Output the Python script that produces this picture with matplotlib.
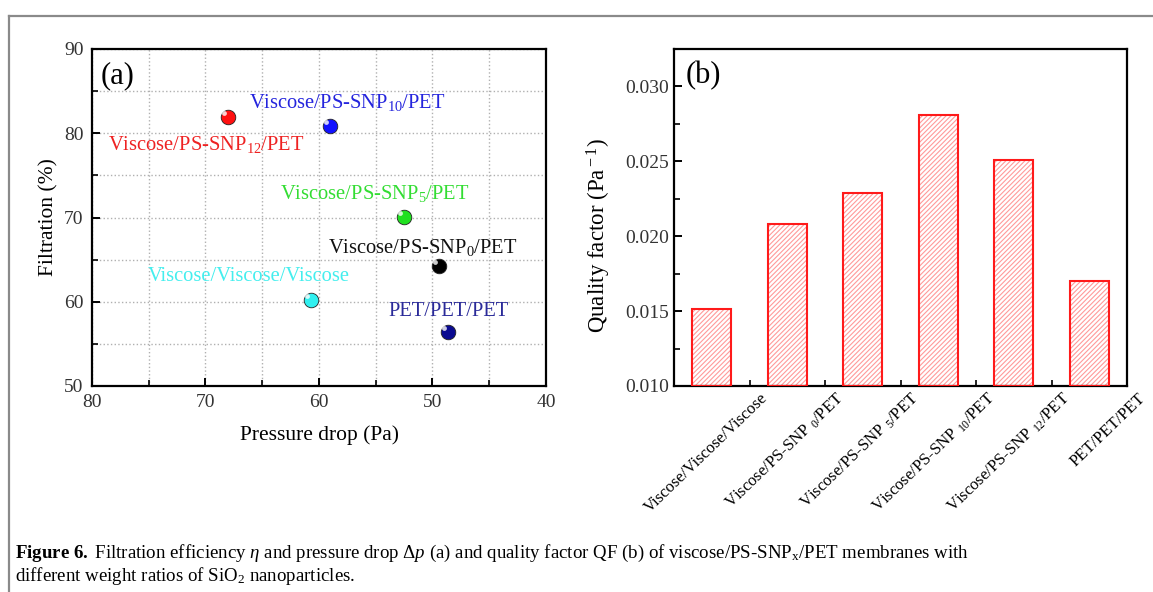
import numpy as np
import matplotlib
matplotlib.use("Agg")
import matplotlib.pyplot as plt
from matplotlib.lines import Line2D
from matplotlib.transforms import blended_transform_factory

plt.rcParams['font.family'] = ['Liberation Serif', 'DejaVu Serif']
plt.rcParams['mathtext.fontset'] = 'custom'
plt.rcParams['mathtext.rm'] = 'Liberation Serif'
plt.rcParams['mathtext.it'] = 'Liberation Serif:italic'
plt.rcParams['mathtext.bf'] = 'Liberation Serif:bold'
plt.rcParams['hatch.linewidth'] = 0.8

# ---- panel (a) data: pressure drop vs filtration ----
samples = ['Viscose/PS-SNP$_{12}$/PET', 'Viscose/PS-SNP$_{10}$/PET', 'Viscose/PS-SNP$_{5}$/PET',
           'Viscose/PS-SNP$_{0}$/PET', 'Viscose/Viscose/Viscose', 'PET/PET/PET']
pressure = [68.0, 59.0, 52.5, 49.4, 60.7, 48.6]
filtration = [81.9, 80.9, 70.1, 64.3, 60.2, 56.4]
dot_colors = ['#ff1010', '#1010ff', '#20e020', '#000000', '#30f0f0', '#0a0a90']
text_colors = ['#ee2222', '#2424dd', '#33dd33', '#111111', '#44eeee', '#2a2a99']
# label anchors (left edge, centre)
lab_x = [78.6, 66.2, 63.4, 59.2, 75.1, 53.9]
lab_y = [78.7, 83.7, 72.8, 66.4, 62.95, 58.8]

# ---- panel (b) data: quality factor ----
qf_labels = ['Viscose/Viscose/Viscose', r'Viscose/PS-SNP $_{\it 0}$/PET', r'Viscose/PS-SNP $_{\it 5}$/PET',
             r'Viscose/PS-SNP $_{\it 10}$/PET', r'Viscose/PS-SNP $_{\it 12}$/PET', 'PET/PET/PET']
qf = [0.01515, 0.0208, 0.0229, 0.0281, 0.0251, 0.0170]

fig = plt.figure(figsize=(11.53, 5.92), dpi=100)

# gray frame around the figure
fig.add_artist(Line2D([0.0075, 1.0], [1 - 15.5/592, 1 - 15.5/592], color='#8a8a8a', lw=1.6))
fig.add_artist(Line2D([0.0075, 0.0075], [0.0, 1 - 15.5/592], color='#8a8a8a', lw=1.6))

ax1 = fig.add_axes([92/1153, 1 - 386/592, (546-92)/1153, (386-49)/592])
ax2 = fig.add_axes([674/1153, 1 - 386/592, (1127-674)/1153, (386-49)/592])

# (a)
for i in range(len(samples)):
    ax1.scatter(pressure[i], filtration[i], s=110, color=dot_colors[i],
                edgecolors='#222222', linewidths=0.6, zorder=3)
    ax1.scatter(pressure[i] + 0.35, filtration[i] + 0.45, s=12, color='white',
                alpha=0.8, linewidths=0, zorder=4)
    ax1.text(lab_x[i], lab_y[i], samples[i], color=text_colors[i], fontsize=14.8,
             ha='left', va='center')

ax1.set_xlim(80, 40)
ax1.set_ylim(50, 90)
ax1.set_xticks([80, 70, 60, 50, 40])
ax1.set_xticks([75, 65, 55, 45], minor=True)
ax1.set_yticks([50, 60, 70, 80, 90])
ax1.set_yticks([55, 65, 75, 85], minor=True)
ax1.grid(True, which='both', color='#b0b0b0', linestyle=':', linewidth=1.0)
ax1.set_axisbelow(True)
ax1.set_xlabel('Pressure drop (Pa)', fontsize=15.5, labelpad=10)
ax1.set_ylabel('Filtration (%)', fontsize=15.5, labelpad=4)
ax1.text(0.02, 0.965, '(a)', transform=ax1.transAxes, fontsize=22, ha='left', va='top')

# (b)
x = np.arange(len(qf))
ax2.bar(x, np.array(qf) - 0.010, bottom=0.010, width=0.51, color='white',
        edgecolor='#ff9a9a', hatch='///////', linewidth=0, zorder=2)
ax2.bar(x, np.array(qf) - 0.010, bottom=0.010, width=0.51, color='none',
        edgecolor='#ff1a1a', linewidth=1.5, zorder=3)
ax2.set_xlim(-0.5, 5.5)
ax2.set_ylim(0.010, 0.0325)
ax2.set_yticks([0.010, 0.015, 0.020, 0.025, 0.030])
ax2.set_yticks([0.0125, 0.0175, 0.0225, 0.0275], minor=True)
ax2.set_yticklabels(['0.010', '0.015', '0.020', '0.025', '0.030'])
ax2.set_xticks(x)
ax2.set_xticks(x[:-1] + 0.5, minor=True)
ax2.set_xticklabels([])
ax2.set_ylabel('Quality factor (Pa$^{\\rm -1}$)', fontsize=16.5)
ax2.yaxis.set_label_coords(-0.135, 0.445)
ax2.text(0.025, 0.965, '(b)', transform=ax2.transAxes, fontsize=22, ha='left', va='top')
trans = blended_transform_factory(ax2.transData, ax2.transAxes)
for i, lab in enumerate(qf_labels):
    ax2.text(i + 0.64, -0.012, lab, transform=trans, fontsize=12, rotation=44,
             rotation_mode='anchor', ha='right', va='top')

for ax in (ax1, ax2):
    for sp in ax.spines.values():
        sp.set_linewidth(1.6)
    ax.tick_params(which='both', direction='in', top=False, right=False, labelsize=14)
    ax.tick_params(which='major', length=6, width=1.4)
    ax.tick_params(which='minor', length=4, width=1.2)
    for lb in ax.get_xticklabels() + ax.get_yticklabels():
        lb.set_color('#333333')
ax1.tick_params(axis='both', pad=6)

# caption
fig.text(15/1153, 1 - 553/592,
         r'$\bf{Figure\ 6.}$ Filtration efficiency $\eta$ and pressure drop $\Delta p$ (a) and quality factor QF (b) '
         r'of viscose/PS-SNP$_{\mathrm{x}}$/PET membranes with', fontsize=13.6, ha='left', va='center')
fig.text(15/1153, 1 - 576/592, r'different weight ratios of SiO$_2$ nanoparticles.',
         fontsize=13.6, ha='left', va='center')

fig.savefig('out.png', dpi=100)
